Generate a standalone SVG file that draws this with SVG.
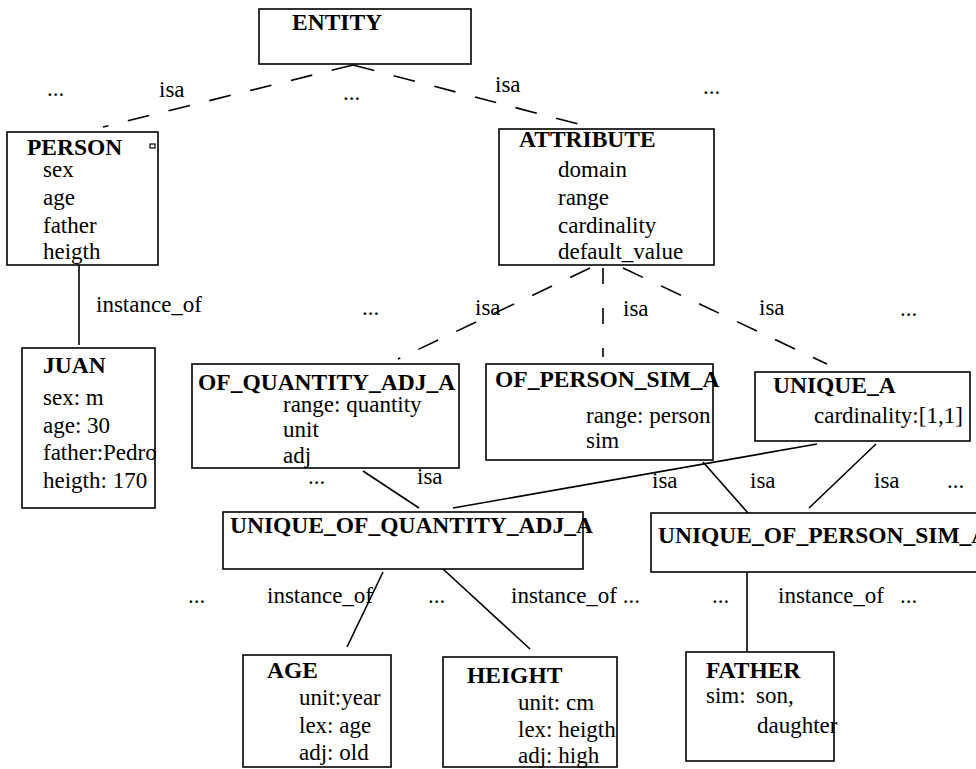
<svg xmlns="http://www.w3.org/2000/svg" width="976" height="769" viewBox="0 0 976 769">
<style>
.box{fill:#fff;stroke:#000;stroke-width:1.6}
.ln{stroke:#000;stroke-width:1.6;fill:none}
.dash{stroke:#000;stroke-width:1.6;fill:none;stroke-dasharray:22 20}
.vdash{stroke:#000;stroke-width:1.6;fill:none;stroke-dasharray:16 24}
text{font-family:"Liberation Serif","Times New Roman",serif;font-size:23px;fill:#000}
.t{font-weight:bold;font-size:23.5px}
</style>
<rect x="0" y="0" width="976" height="769" fill="#fff"/>
<g id="connectors">
<path class="dash" d="M353,65 L103,127"/>
<path class="dash" d="M353,65 L578,124"/>
<path class="dash" d="M590,268 L398,359"/>
<path class="vdash" d="M603,268 L603,357"/>
<path class="dash" d="M623,268 L827,364"/>
<path class="ln" d="M79,265 L79,345"/>
<path class="ln" d="M363,471 L419,508"/>
<path class="ln" d="M817,444 L453,508"/>
<path class="ln" d="M703,462 L748,513"/>
<path class="ln" d="M876,444 L809,508"/>
<path class="ln" d="M383,572 L347,647"/>
<path class="ln" d="M443,569 L530,649"/>
<path class="ln" d="M747,572 L747,652"/>
<text x="47" y="96">...</text>
<text x="159" y="97">isa</text>
<text x="343" y="100">...</text>
<text x="495" y="92">isa</text>
<text x="703" y="94">...</text>
<text x="96" y="312">instance_of</text>
<text x="362" y="315">...</text>
<text x="475" y="315">isa</text>
<text x="623" y="316">isa</text>
<text x="759" y="315">isa</text>
<text x="900" y="316">...</text>
<text x="308" y="484">...</text>
<text x="417" y="484">isa</text>
<text x="652" y="488">isa</text>
<text x="750" y="488">isa</text>
<text x="874" y="488">isa</text>
<text x="947" y="488">...</text>
<text x="188" y="603">...</text>
<text x="267" y="603">instance_of</text>
<text x="428" y="603">...</text>
<text x="511" y="603">instance_of ...</text>
<text x="712" y="603">...</text>
<text x="778" y="603">instance_of</text>
<text x="900" y="603">...</text>
</g>
<g id="entity">
<rect class="box" x="259" y="9" width="212" height="55"/>
<text class="t" x="292" y="30">ENTITY</text>
</g>
<g id="person">
<rect class="box" x="7" y="132" width="151" height="133"/>
<rect x="150" y="144" width="5" height="4" fill="#fff" stroke="#000" stroke-width="1.2"/>
<text class="t" x="27" y="155">PERSON</text>
<text x="43" y="177">sex</text>
<text x="43" y="205">age</text>
<text x="43" y="233">father</text>
<text x="43" y="259">heigth</text>
</g>
<g id="attribute">
<rect class="box" x="499" y="129" width="215" height="136"/>
<text class="t" x="519" y="147">ATTRIBUTE</text>
<text x="558" y="177">domain</text>
<text x="558" y="205">range</text>
<text x="558" y="233">cardinality</text>
<text x="558" y="259">default_value</text>
</g>
<g id="juan">
<rect class="box" x="22" y="348" width="133" height="160"/>
<text class="t" x="43" y="373">JUAN</text>
<text x="43" y="405">sex: m</text>
<text x="43" y="433">age: 30</text>
<text x="43" y="460">father:Pedro</text>
<text x="43" y="488">heigth: 170</text>
</g>
<g id="of_quantity_adj_a">
<rect class="box" x="192" y="364" width="267" height="104"/>
<text class="t" x="198" y="390">OF_QUANTITY_ADJ_A</text>
<text x="283" y="412">range: quantity</text>
<text x="283" y="437">unit</text>
<text x="283" y="463">adj</text>
</g>
<g id="of_person_sim_a">
<rect class="box" x="486" y="364" width="227" height="96"/>
<text class="t" x="495" y="387">OF_PERSON_SIM_A</text>
<text x="586" y="423">range: person</text>
<text x="586" y="448">sim</text>
</g>
<g id="unique_a">
<rect class="box" x="755" y="372" width="215" height="69"/>
<text class="t" x="773" y="393">UNIQUE_A</text>
<text x="814" y="423">cardinality:[1,1]</text>
</g>
<g id="unique_of_quantity_adj_a">
<rect class="box" x="223" y="512" width="360" height="57"/>
<text class="t" x="230" y="533">UNIQUE_OF_QUANTITY_ADJ_A</text>
</g>
<g id="unique_of_person_sim_a">
<rect class="box" x="651" y="513" width="340" height="59"/>
<text class="t" x="658" y="543">UNIQUE_OF_PERSON_SIM_A</text>
</g>
<g id="age">
<rect class="box" x="243" y="655" width="148" height="112"/>
<text class="t" x="267" y="678">AGE</text>
<text x="299" y="705">unit:year</text>
<text x="299" y="733">lex: age</text>
<text x="299" y="760">adj: old</text>
</g>
<g id="height">
<rect class="box" x="443" y="657" width="174" height="110"/>
<text class="t" x="467" y="683">HEIGHT</text>
<text x="518" y="710">unit: cm</text>
<text x="518" y="737">lex: heigth</text>
<text x="518" y="763">adj: high</text>
</g>
<g id="father">
<rect class="box" x="686" y="652" width="148" height="109"/>
<text class="t" x="706" y="678">FATHER</text>
<text x="706" y="703">sim:</text>
<text x="756" y="703">son,</text>
<text x="757" y="733">daughter</text>
</g>
</svg>
